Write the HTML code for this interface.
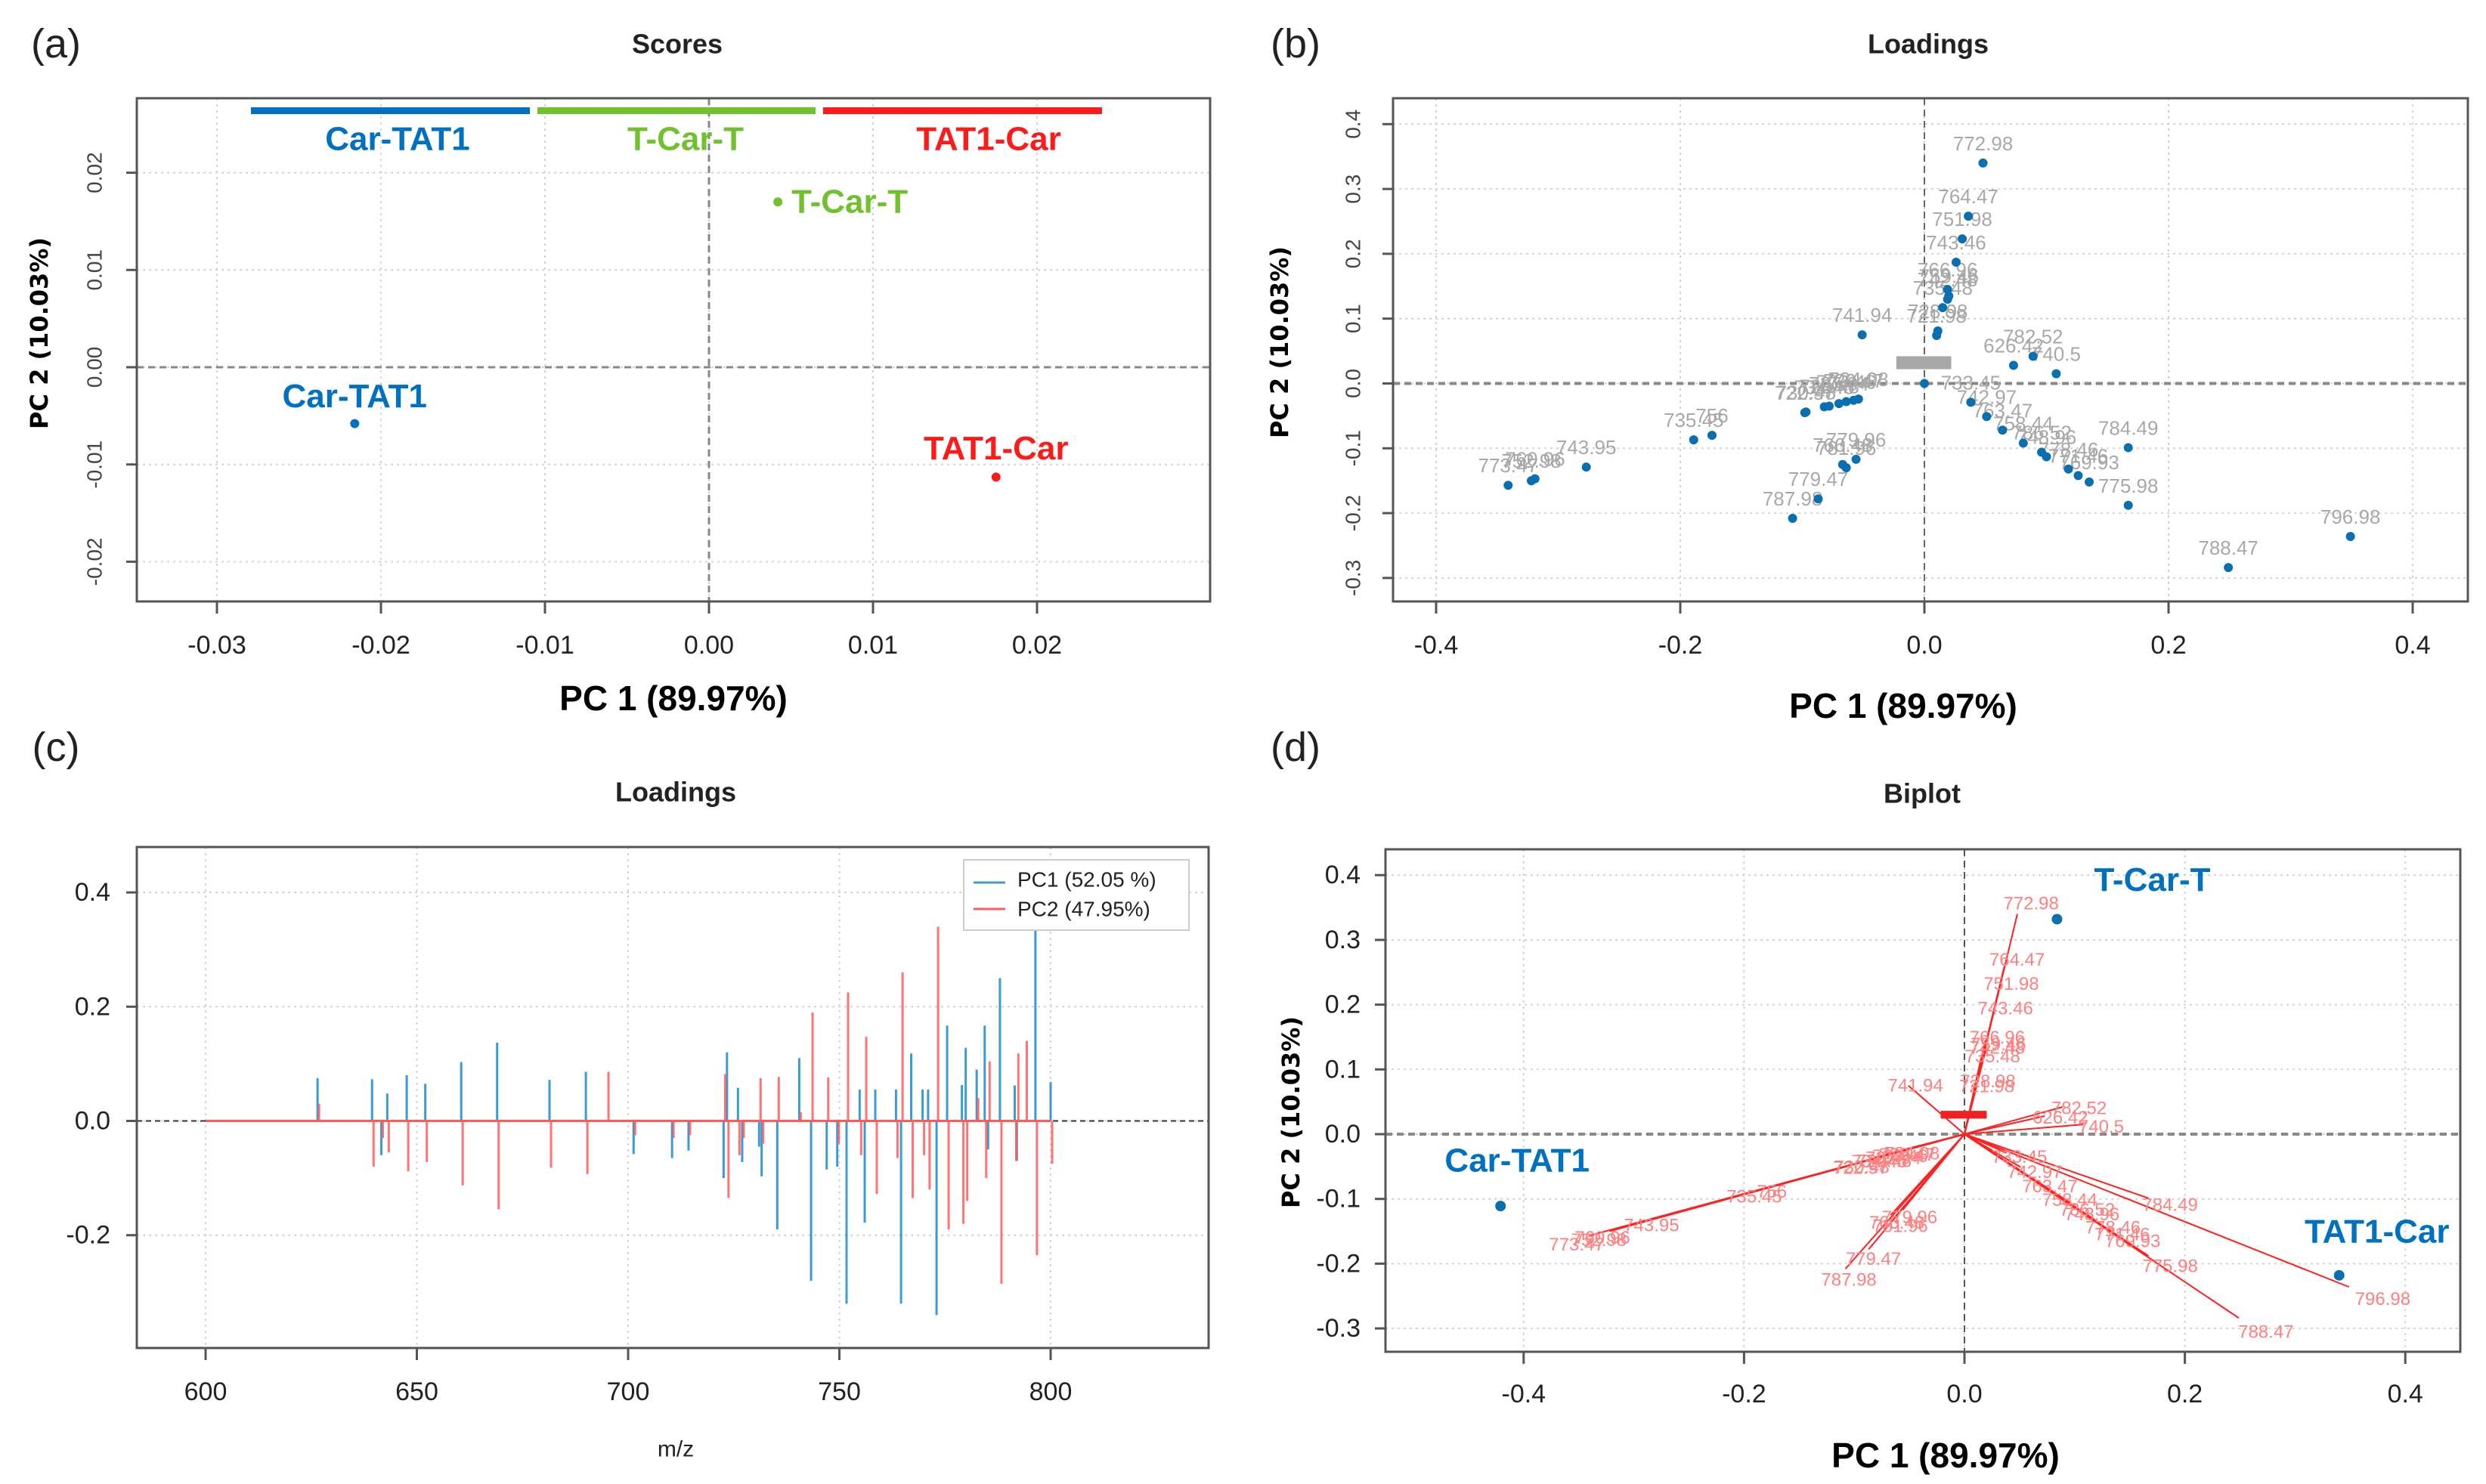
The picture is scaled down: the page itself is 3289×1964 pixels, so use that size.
<!DOCTYPE html>
<html><head><meta charset="utf-8">
<style>
html,body{margin:0;padding:0;background:#fff;}
svg{display:block;}
</style></head>
<body>
<svg id="fig" width="3289" height="1964" viewBox="0 0 3289 1964" xmlns="http://www.w3.org/2000/svg">
<rect x="0" y="0" width="3289" height="1964" fill="#fff"/>
<g id="root"></g>
</svg>
<script>
// ---------- data ----------
const scoreNames = ['Car-TAT1','T-Car-T','TAT1-Car'];
const scorePC1 = [-0.0216, 0.0042, 0.0175];
const scorePC2 = [-0.0058, 0.0170, -0.0113];
const scoreColors = ['#0070c0','#70c030','#ff1a1a'];

const loadLabels = ['772.98','764.47','751.98','743.46','766.96','759.46','742.48','735.48','728.98','721.98','741.94','','626.42','782.52','740.5',
 '722.97','730.48','734.46','720.48','727.94','723.46','729.47','724.98','735.45','756','743.95','760.96','752.98','773.47','779.96','766.48','781.96','779.47','787.98',
 '786.52','778.46','769.93','771.46','748.96','758.44','763.47','742.97','733.45','784.49','775.98','788.47','796.98'];
const loadPC1 = [0.048,0.036,0.031,0.026,0.019,0.020,0.019,0.015,0.011,0.010,-0.051,0,0.073,0.089,0.108,
 -0.098,-0.097,-0.082,-0.078,-0.070,-0.064,-0.058,-0.054,-0.189,-0.174,-0.277,-0.319,-0.322,-0.341,-0.056,-0.067,-0.064,-0.087,-0.108,
 0.096,0.118,0.135,0.126,0.100,0.081,0.064,0.051,0.038,0.167,0.167,0.249,0.349];
const loadPC2 = [0.340,0.258,0.223,0.187,0.145,0.135,0.130,0.117,0.081,0.074,0.075,0,0.028,0.042,0.015,
 -0.045,-0.044,-0.036,-0.035,-0.031,-0.028,-0.026,-0.024,-0.087,-0.080,-0.129,-0.147,-0.150,-0.157,-0.117,-0.125,-0.130,-0.178,-0.208,
 -0.106,-0.132,-0.152,-0.142,-0.113,-0.092,-0.072,-0.051,-0.029,-0.099,-0.188,-0.284,-0.236];

const specMz  = [626.5,639.4,641.6,643,647.6,652,660.5,669,681.4,690,695,701.3,710.4,714.3,722.6,723.4,726,727,731,731.6,735.3,740.5,743.3,747,749.5,751.7,754.8,756,758.5,763.4,764.6,767,769.7,771,773,775.5,779,779.9,782.5,784.4,785.2,788,791.5,792,794,796.4,800];
const specPC1 = [0.075,0.073,-0.06,0.048,0.08,0.065,0.103,0.137,0.072,0.086,0,-0.058,-0.065,-0.052,-0.1,0.12,0.058,-0.072,-0.045,-0.097,-0.19,0.11,-0.28,-0.085,-0.08,-0.32,0.055,-0.178,0.055,0.055,-0.32,0.118,0.055,0.055,-0.34,0.167,0.063,0.128,0.09,0.167,-0.05,0.25,0.062,-0.07,0,0.35,0.068];
const specPC2 = [0.03,-0.08,-0.03,-0.055,-0.088,-0.072,-0.113,-0.155,-0.082,-0.093,0.086,-0.025,-0.03,-0.025,0.082,-0.135,-0.06,-0.03,0.075,-0.04,0.077,0.015,0.19,0.076,-0.04,0.225,-0.06,0.147,-0.128,-0.065,0.26,-0.135,-0.06,-0.12,0.34,-0.19,-0.18,-0.14,0.04,-0.1,0.104,-0.285,-0.07,0.118,0.14,-0.235,-0.075];

const biNames = ['Car-TAT1','T-Car-T','TAT1-Car'];
const biPC1 = [-0.421, 0.084, 0.340];
const biPC2 = [-0.111, 0.332, -0.218];

const aXTicks = ['-0.03','-0.02','-0.01','0.00','0.01','0.02'];
const aYTicks = ['-0.02','-0.01','0.00','0.01','0.02'];
const bXTicks = ['-0.4','-0.2','0.0','0.2','0.4'];
const bYTicks = ['-0.3','-0.2','-0.1','0.0','0.1','0.2','0.3','0.4'];
const cXTicks = ['600','650','700','750','800'];
const cYTicks = ['-0.2','0.0','0.2','0.4'];
const dXTicks = ['-0.4','-0.2','0.0','0.2','0.4'];
const dYTicks = ['-0.3','-0.2','-0.1','0.0','0.1','0.2','0.3','0.4'];

// ---------- helpers ----------
const NS='http://www.w3.org/2000/svg';
const root=document.getElementById('root');
const NARROW='"Liberation Sans Narrow","Liberation Sans",sans-serif';
function mk(tag,attrs,name,parent){
  const el=document.createElementNS(NS,tag);
  for(const k in attrs) el.setAttribute(k,attrs[k]);
  
  
  (parent||root).appendChild(el);
  return el;
}
function txt(x,y,s,attrs,name,parent){
  const a=Object.assign({x:x,y:y,'font-family':NARROW,'font-size':34,fill:'#222','text-anchor':'middle','dominant-baseline':'central'},attrs||{});
  const el=mk('text',a,name,parent);
  el.textContent=s;
  return el;
}
function box(x0,y0,x1,y1,name){
  mk('rect',{x:x0,y:y0,width:x1-x0,height:y1-y0,fill:'none',stroke:'#555','stroke-width':3},name);
}
function hgrid(y,x0,x1,name){mk('line',{x1:x0,x2:x1,y1:y,y2:y,stroke:'#d4d4d4','stroke-width':2,'stroke-dasharray':'3 5'},name);}
function vgrid(x,y0,y1,name){mk('line',{x1:x,x2:x,y1:y0,y2:y1,stroke:'#d4d4d4','stroke-width':2,'stroke-dasharray':'3 5'},name);}

// ---------- Panel A: Scores ----------
(function(){
  const L=181,R=1601,T=130,B=796;
  const sx=v=>938+v*21700, sy=v=>486-v*12870;
  txt(74,58,'(a)',{'font-size':54,'font-family':'"Liberation Sans",sans-serif'},'panel-a-label');
  txt(896,58,'Scores',{'font-size':36,'font-weight':'bold'},'scores-title');
  aXTicks.forEach(t=>{const x=sx(+t);vgrid(x,T,B,'a-x-grid');mk('line',{x1:x,x2:x,y1:B,y2:B+16,stroke:'#555','stroke-width':3},'a-x-tick');txt(x,854,t,{},'a-x-tick-label');});
  aYTicks.forEach(t=>{const y=sy(+t);hgrid(y,L,R,'a-y-grid');mk('line',{x1:L-14,x2:L,y1:y,y2:y,stroke:'#555','stroke-width':3},'a-y-tick');txt(125,y,t,{'font-family':'"Liberation Sans",sans-serif','font-size':28,fill:'#444',transform:`rotate(-90 125 ${y})`},'a-y-tick-label');});
  mk('line',{x1:L,x2:R,y1:sy(0),y2:sy(0),stroke:'#888','stroke-width':3,'stroke-dasharray':'9 6'},'a-zero-h');
  mk('line',{x1:sx(0),x2:sx(0),y1:T,y2:B,stroke:'#888','stroke-width':3,'stroke-dasharray':'9 6'},'a-zero-v');
  box(L,T,R,B,'a-plot-area');
  const barX=[[332,701],[711,1079],[1089,1458]];
  const barLab=[526,907,1308];
  scoreNames.forEach((n,i)=>{
    mk('rect',{x:barX[i][0],y:142,width:barX[i][1]-barX[i][0],height:9,fill:scoreColors[i]},'legend-bar-'+n.toLowerCase());
    txt(barLab[i],184,n,{'font-size':44,'font-weight':'bold',fill:scoreColors[i]},'legend-label-'+n.toLowerCase());
  });
  const offs=[[0,-36,'middle'],[18,0,'start'],[0,-38,'middle']];
  scoreNames.forEach((n,i)=>{
    const x=sx(scorePC1[i]),y=sy(scorePC2[i]);
    mk('ellipse',{cx:x,cy:y,rx:6,ry:6,fill:scoreColors[i]},'score-point-'+n.toLowerCase());
    txt(x+offs[i][0],y+offs[i][1],n,{'font-size':44,'font-weight':'bold',fill:scoreColors[i],'text-anchor':offs[i][2]},'score-label-'+n.toLowerCase());
  });
  txt(891,924,'PC 1 (89.97%)',{'font-size':46,'font-weight':'bold',fill:'#000'},'a-x-axis-title');
  txt(52,441,'PC 2 (10.03%)',{'font-family':'"DejaVu Sans",sans-serif','font-size':32,'font-weight':'bold',fill:'#000',transform:'rotate(-90 52 441)'},'a-y-axis-title');
})();

// ---------- Panel B: Loadings scatter ----------
(function(){
  const L=1843,R=3265,T=130,B=796;
  const sx=v=>2546+v*1615, sy=v=>507.5-v*858;
  txt(1714,58,'(b)',{'font-size':54,'font-family':'"Liberation Sans",sans-serif'},'panel-b-label');
  txt(2551,58,'Loadings',{'font-size':36,'font-weight':'bold'},'b-title');
  bXTicks.forEach(t=>{const x=sx(+t);vgrid(x,T,B,'b-x-grid');mk('line',{x1:x,x2:x,y1:B,y2:B+16,stroke:'#555','stroke-width':3},'b-x-tick');txt(x,854,t,{},'b-x-tick-label');});
  bYTicks.forEach(t=>{const y=sy(+t);hgrid(y,L,R,'b-y-grid');mk('line',{x1:L-14,x2:L,y1:y,y2:y,stroke:'#555','stroke-width':3},'b-y-tick');txt(1790,y,t,{'font-family':'"Liberation Sans",sans-serif','font-size':28,fill:'#444',transform:`rotate(-90 1790 ${y})`},'b-y-tick-label');});
  mk('line',{x1:L,x2:R,y1:sy(0),y2:sy(0),stroke:'#888','stroke-width':4,'stroke-dasharray':'9 6'},'b-zero-h');
  mk('line',{x1:sx(0),x2:sx(0),y1:T,y2:B,stroke:'#666','stroke-width':2,'stroke-dasharray':'9 6'},'b-zero-v');
  box(L,T,R,B,'b-plot-area');
  mk('rect',{x:sx(-0.023),y:sy(0.042),width:sx(0.022)-sx(-0.023),height:sy(0.022)-sy(0.042),fill:'#a8a8a8'},'b-label-cluster');
  loadLabels.forEach((n,i)=>{
    const x=sx(loadPC1[i]),y=sy(loadPC2[i]);
    if(n) txt(x,y-26,n,{'font-size':26,fill:'#a8a8a8'},'b-loading-label');
  });
  loadLabels.forEach((n,i)=>{
    const x=sx(loadPC1[i]),y=sy(loadPC2[i]);
    mk('ellipse',{cx:x,cy:y,rx:6,ry:6,fill:'#0a6fb0'},'b-loading-point');
  });
  txt(2518,934,'PC 1 (89.97%)',{'font-size':46,'font-weight':'bold',fill:'#000'},'b-x-axis-title');
  txt(1693,453,'PC 2 (10.03%)',{'font-family':'"DejaVu Sans",sans-serif','font-size':32,'font-weight':'bold',fill:'#000',transform:'rotate(-90 1693 453)'},'b-y-axis-title');
})();

// ---------- Panel C: Loadings spectrum ----------
(function(){
  const L=181,R=1599,T=1121,B=1784;
  const sx=v=>272+(v-600)*5.59, sy=v=>1483.5-v*756;
  txt(74,989,'(c)',{'font-size':54,'font-family':'"Liberation Sans",sans-serif'},'panel-c-label');
  txt(894,1048,'Loadings',{'font-size':36,'font-weight':'bold'},'c-title');
  cXTicks.forEach(t=>{const x=sx(+t);vgrid(x,T,B,'c-x-grid');mk('line',{x1:x,x2:x,y1:B,y2:B+16,stroke:'#555','stroke-width':3},'c-x-tick');txt(x,1842,t,{},'c-x-tick-label');});
  cYTicks.forEach(t=>{const y=sy(+t);hgrid(y,L,R,'c-y-grid');mk('line',{x1:L-14,x2:L,y1:y,y2:y,stroke:'#555','stroke-width':3},'c-y-tick');txt(146,y,t,{'text-anchor':'end'},'c-y-tick-label');});
  mk('line',{x1:L,x2:R,y1:sy(0),y2:sy(0),stroke:'#333','stroke-width':2,'stroke-dasharray':'7 5'},'c-zero-line');
  specMz.forEach((m,i)=>{
    const x=sx(m);
    mk('line',{x1:x,x2:x,y1:sy(0),y2:sy(specPC1[i]),stroke:'#3a9bd5','stroke-width':3},'c-pc1-bar');
  });
  specMz.forEach((m,i)=>{
    const x=sx(m)+2;
    mk('line',{x1:x,x2:x,y1:sy(0),y2:sy(specPC2[i]),stroke:'#ff5a5a','stroke-opacity':0.85,'stroke-width':3},'c-pc2-bar');
  });
  mk('line',{x1:sx(600),x2:sx(800),y1:sy(0),y2:sy(0),stroke:'#ff5a5a','stroke-width':3},'c-baseline');
  box(L,T,R,B,'c-plot-area');
  mk('rect',{x:1275,y:1138,width:298,height:93,fill:'#fff',stroke:'#ccc','stroke-width':2},'c-legend');
  mk('line',{x1:1288,x2:1330,y1:1168,y2:1168,stroke:'#3a9bd5','stroke-width':3},'c-legend-pc1-swatch');
  txt(1346,1164,'PC1 (52.05 %)',{'text-anchor':'start','font-size':28},'c-legend-pc1-label');
  mk('line',{x1:1288,x2:1330,y1:1203,y2:1203,stroke:'#ff5a5a','stroke-width':3},'c-legend-pc2-swatch');
  txt(1346,1203,'PC2 (47.95%)',{'text-anchor':'start','font-size':28},'c-legend-pc2-label');
  txt(894,1918,'m/z',{'font-size':30},'c-x-axis-title');
})();

// ---------- Panel D: Biplot ----------
(function(){
  const L=1833,R=3255,T=1124,B=1789;
  const sx=v=>2599+v*1458, sy=v=>1501-v*857;
  txt(1714,989,'(d)',{'font-size':54,'font-family':'"Liberation Sans",sans-serif'},'panel-d-label');
  txt(2543,1050,'Biplot',{'font-size':36,'font-weight':'bold'},'d-title');
  dXTicks.forEach(t=>{const x=sx(+t);vgrid(x,T,B,'d-x-grid');mk('line',{x1:x,x2:x,y1:B,y2:B+16,stroke:'#555','stroke-width':3},'d-x-tick');txt(x,1845,t,{},'d-x-tick-label');});
  dYTicks.forEach(t=>{const y=sy(+t);hgrid(y,L,R,'d-y-grid');mk('line',{x1:L-14,x2:L,y1:y,y2:y,stroke:'#555','stroke-width':3},'d-y-tick');txt(1800,y,t,{'text-anchor':'end'},'d-y-tick-label');});
  mk('line',{x1:L,x2:R,y1:sy(0),y2:sy(0),stroke:'#888','stroke-width':4,'stroke-dasharray':'9 6'},'d-zero-h');
  mk('line',{x1:sx(0),x2:sx(0),y1:T,y2:B,stroke:'#555','stroke-width':2,'stroke-dasharray':'9 6'},'d-zero-v');
  box(L,T,R,B,'d-plot-area');
  loadLabels.forEach((n,i)=>{
    mk('line',{x1:sx(0),y1:sy(0),x2:sx(loadPC1[i]),y2:sy(loadPC2[i]),stroke:'#ff2020','stroke-width':2},'d-loading-arrow');
  });
  loadLabels.forEach((n,i)=>{
    if(n) txt(sx(loadPC1[i]*1.06)+14,sy(loadPC2[i]*1.06)+4,n,{'font-size':24,fill:'#ff8080'},'d-loading-label');
  });
  mk('rect',{x:sx(-0.0216),y:sy(0.036),width:sx(0.0202)-sx(-0.0216),height:sy(0.024)-sy(0.036),fill:'#ee2020'},'d-label-cluster');
  const offs=[[22,-60],[126,-52],[50,-58]];
  biNames.forEach((n,i)=>{
    const x=sx(biPC1[i]),y=sy(biPC2[i]);
    mk('ellipse',{cx:x,cy:y,rx:7,ry:7,fill:'#0a6fb0'},'d-sample-point');
    txt(x+offs[i][0],y+offs[i][1],n,{'font-size':44,'font-weight':'bold',fill:'#0070c0'},'d-sample-label');
  });
  txt(2574,1926,'PC 1 (89.97%)',{'font-size':46,'font-weight':'bold',fill:'#000'},'d-x-axis-title');
  txt(1708,1472,'PC 2 (10.03%)',{'font-family':'"DejaVu Sans",sans-serif','font-size':32,'font-weight':'bold',fill:'#000',transform:'rotate(-90 1708 1472)'},'d-y-axis-title');
})();
</script>
</body></html>
